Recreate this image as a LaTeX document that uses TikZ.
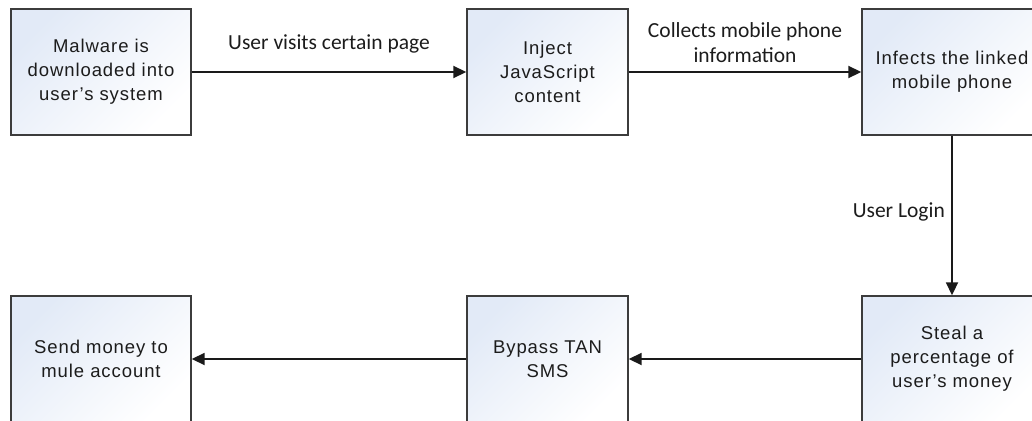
\documentclass[tikz,border=0pt]{standalone}
\usepackage{fontspec}
\newfontfamily\boxfont{Liberation Sans}[LetterSpace=5]
\newfontfamily\labelfont{Carlito}
\usetikzlibrary{arrows.meta}
\definecolor{boxedge}{RGB}{60,60,60}
\definecolor{boxtint}{RGB}{226,234,247}
\definecolor{inktext}{RGB}{28,28,28}
\definecolor{flowline}{RGB}{26,26,26}
\tikzset{
  stepbox/.style={draw=boxedge, line width=1.4pt, rectangle,
    top color=boxtint, bottom color=white, shading angle=45,
    minimum height=126pt, align=center, text=inktext,
    font=\boxfont\fontsize{18.5}{24}\selectfont, inner sep=0pt},
  widebox/.style={stepbox, minimum width=180pt},
  narrowbox/.style={stepbox, minimum width=161pt},
  flow/.style={draw=flowline, line width=1.8pt,
    -{Triangle[length=13pt,width=12pt]}},
  flowlabel/.style={text=inktext, align=center,
    font=\labelfont\fontsize{21.5}{25}\selectfont, inner sep=0pt}
}
\begin{document}
\begin{tikzpicture}[x=1pt, y=-1pt]
  \useasboundingbox (0,0) rectangle (1032,420);

  % top row
  \node[widebox]   (malware) at (101,72)   {Malware is\\downloaded into\\user’s system};
  \node[narrowbox] (inject)  at (547.5,72) {Inject\\JavaScript\\content};
  \node[widebox]   (infect)  at (952,72)   {Infects the linked\\mobile phone};

  % bottom row
  \node[widebox]   (steal)   at (952,359)   {Steal a\\percentage of\\user’s money};
  \node[narrowbox] (bypass)  at (547.5,359) {Bypass TAN\\SMS};
  \node[widebox]   (mule)    at (101,359)   {Send money to\\mule account};

  % connectors
  \draw[flow] (malware) -- (inject);
  \draw[flow] (inject) -- (infect);
  \draw[flow] (infect) -- (steal);
  \draw[flow] (steal) -- (bypass);
  \draw[flow] (bypass) -- (mule);

  % connector labels
  \node[flowlabel] (visitlbl)   at (329,44)  {User visits certain page};
  \node[flowlabel] (collectlbl) at (745,43)  {Collects mobile phone\\information};
  \node[flowlabel, anchor=east] (loginlbl) at (945,212) {User Login};
\end{tikzpicture}
\end{document}
